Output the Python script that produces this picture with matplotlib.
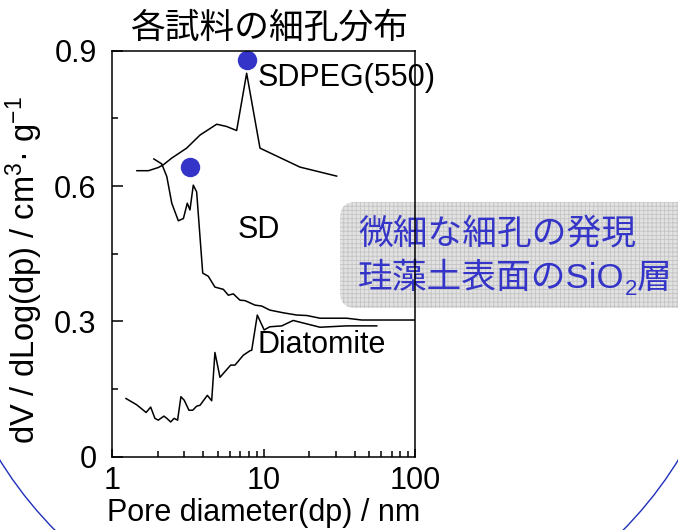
import matplotlib
matplotlib.use("Agg")
import matplotlib.pyplot as plt
from matplotlib.patches import Arc, FancyBboxPatch
from matplotlib.ticker import FixedLocator, NullFormatter

plt.rcParams['font.family'] = ['Liberation Sans', 'Noto Sans CJK JP', 'DejaVu Sans']
plt.rcParams['mathtext.fontset'] = 'custom'
plt.rcParams['mathtext.rm'] = 'Liberation Sans'
plt.rcParams['mathtext.it'] = 'Liberation Sans'
plt.rcParams['hatch.linewidth'] = 0.6

# data
sdpeg_x = [1.46, 1.74, 2.02, 2.18, 2.48, 3.11, 3.81, 4.91, 5.71, 6.65, 7.74, 9.48, 17.4, 30.4]
sdpeg_y = [0.634, 0.634, 0.641, 0.647, 0.662, 0.684, 0.713, 0.737, 0.732, 0.723, 0.850, 0.684, 0.642, 0.622]

sd_x = [1.89, 2.13, 2.30, 2.48, 2.74, 2.96, 3.14, 3.27, 3.44, 3.62, 3.97, 4.32, 4.78, 5.43, 5.86,
        6.32, 6.99, 7.55, 8.79, 9.73, 11.0, 13.5, 16.6, 19.3, 23.6, 35.4, 44.5, 100]
sd_y = [0.660, 0.649, 0.621, 0.562, 0.523, 0.528, 0.562, 0.547, 0.602, 0.587, 0.407, 0.400, 0.376,
        0.371, 0.358, 0.361, 0.347, 0.346, 0.336, 0.334, 0.325, 0.319, 0.314, 0.313, 0.307, 0.307,
        0.303, 0.303]

dia_x = [1.237, 1.456, 1.68, 1.80, 1.92, 2.02, 2.20, 2.30, 2.44, 2.57, 2.71, 2.85, 3.00, 3.22, 3.41,
         3.62, 3.81, 4.26, 4.55, 4.78, 5.16, 6.07, 6.48, 7.36, 8.15, 8.36, 9.10, 10.1, 11.0, 13.2,
         15.7, 23.6, 35.4, 55.9]
dia_y = [0.129, 0.115, 0.098, 0.110, 0.085, 0.081, 0.090, 0.085, 0.077, 0.085, 0.081, 0.133, 0.125,
         0.103, 0.103, 0.112, 0.114, 0.136, 0.124, 0.231, 0.176, 0.203, 0.203, 0.225, 0.235, 0.236,
         0.314, 0.281, 0.288, 0.290, 0.302, 0.287, 0.290, 0.290]

peak_x = [7.74, 3.27]
peak_y = [0.879, 0.643]

curve_names = ['SDPEG(550)', 'SD', 'Diatomite']
name_x = [9.2, 6.7, 9.1]
name_y = [0.839, 0.503, 0.248]

blue = '#3434c8'

fig = plt.figure(figsize=(6.78, 5.30), dpi=100)

# background layer: slide decoration and comment box (pixel coords, y down)
bg = fig.add_axes([0, 0, 1, 1], zorder=0)
bg.set_xlim(0, 678)
bg.set_ylim(530, 0)
bg.axis('off')
bg.add_patch(Arc((339, 250), 798, 798, theta1=0, theta2=180, ec='#2030b8', lw=1.0))
bg.add_patch(FancyBboxPatch((340, 202), 360, 106, boxstyle='round,pad=0,rounding_size=16',
                            fc='#e2e2e2', ec='#c4c4c4', lw=0, hatch='++++'))
bg.text(358, 234, '微細な細孔の発現', color=blue, fontsize=25, va='center', ha='left')
t1 = bg.text(358, 288, '珪藻土表面のSiO', color=blue, fontsize=25, va='baseline', ha='left')
t2 = bg.annotate('2', xy=(1, 295), xycoords=(t1, 'data'), color=blue, fontsize=16,
                 va='baseline', ha='left')
bg.annotate('層', xy=(1, 288), xycoords=(t2, 'data'), color=blue, fontsize=25,
            va='baseline', ha='left')

ax = fig.add_axes([112/678, 1 - 456.7/530, 303/678, 406/530], zorder=1)
ax.patch.set_alpha(0)

ax.plot(sdpeg_x, sdpeg_y, color='black', lw=1.1)
ax.plot(sd_x, sd_y, color='black', lw=1.1)
ax.plot(dia_x, dia_y, color='black', lw=1.1)
ax.plot(peak_x, peak_y, 'o', color=blue, ms=14, mec='none', clip_on=False)

for name, tx, ty in zip(curve_names, name_x, name_y):
    ax.text(tx, ty, name, fontsize=22, va='center', ha='left', clip_on=False)

ax.set_xscale('log')
ax.set_xlim(1, 100)
ax.set_ylim(0, 0.9)
ax.set_xticks([1, 10, 100])
ax.set_xticklabels(['1', '10', '100'])
ax.xaxis.set_minor_locator(FixedLocator([2, 3, 4, 5, 6, 7, 8, 9, 20, 30, 40, 50, 60, 70, 80, 90]))
ax.xaxis.set_minor_formatter(NullFormatter())
ax.set_yticks([0, 0.3, 0.6, 0.9])
ax.set_yticklabels(['0', '0.3', '0.6', '0.9'])
ax.yaxis.set_minor_locator(FixedLocator([0.15, 0.45, 0.75]))

ax.tick_params(which='both', direction='in', top=False, right=False, labelsize=22, width=1.1)
ax.tick_params(axis='y', which='major', length=8, pad=11)
ax.tick_params(axis='y', which='minor', length=4)
ax.tick_params(axis='x', which='major', length=6, pad=7)
ax.tick_params(axis='x', which='minor', length=4)
for sp in ax.spines.values():
    sp.set_linewidth(1.1)

ax.set_xlabel('Pore diameter(dp) / nm', fontsize=22, labelpad=1)
ax.set_ylabel('dV / dLog(dp) / cm$^{3}$· g$^{-1}$', fontsize=23.5)
ax.yaxis.set_label_coords(-0.221, 0.46)

fig.text(269/678, 1 - 28/530, '各試料の細孔分布', fontsize=25, ha='center', va='center')

fig.savefig('out.png', dpi=100)
